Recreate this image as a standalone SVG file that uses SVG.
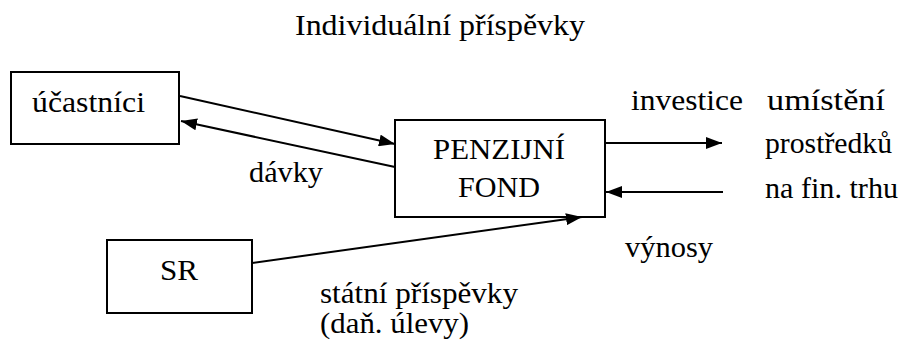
<svg xmlns="http://www.w3.org/2000/svg" width="917" height="345" viewBox="0 0 917 345">
<style>
text{font-family:'Liberation Serif','Times New Roman','DejaVu Serif',serif;font-size:30px;fill:#000}
.box{fill:#fff;stroke:#000;stroke-width:2}
.ln{stroke:#000;stroke-width:2;fill:none;marker-end:url(#ah)}
</style>
<defs>
<marker id="ah" markerWidth="16" markerHeight="12" refX="16" refY="6" orient="auto" markerUnits="userSpaceOnUse">
<path d="M0,0 L16,6 L0,12 Z" fill="#000"/>
</marker>
</defs>
<rect width="917" height="345" fill="#fff"/>
<g id="title">
<text x="295" y="35" textLength="290" lengthAdjust="spacingAndGlyphs">Individuální příspěvky</text>
</g>
<g id="ucastnici">
<rect class="box" x="11" y="72" width="168" height="72"/>
<text x="32" y="112" textLength="113" lengthAdjust="spacingAndGlyphs">účastníci</text>
</g>
<g id="fond">
<rect class="box" x="395" y="120" width="210" height="97"/>
<text x="433" y="159" textLength="132" lengthAdjust="spacingAndGlyphs">PENZIJNÍ</text>
<text x="458" y="197" textLength="82" lengthAdjust="spacingAndGlyphs">FOND</text>
</g>
<g id="sr">
<rect class="box" x="107" y="240" width="145" height="73"/>
<text x="160" y="280" textLength="38" lengthAdjust="spacingAndGlyphs">SR</text>
</g>
<g id="connectors">
<line class="ln" x1="180" y1="96" x2="395" y2="144"/>
<line class="ln" x1="395" y1="167" x2="181" y2="121"/>
<line class="ln" x1="605" y1="143" x2="722" y2="143"/>
<line class="ln" x1="723" y1="192" x2="606" y2="192"/>
<line class="ln" x1="252" y1="263" x2="582" y2="217"/>
</g>
<g id="labels">
<text x="249" y="182" textLength="74" lengthAdjust="spacingAndGlyphs">dávky</text>
<text x="631" y="110" textLength="112" lengthAdjust="spacingAndGlyphs">investice</text>
<text x="767" y="110" textLength="118" lengthAdjust="spacingAndGlyphs">umístění</text>
<text x="765" y="153" textLength="127" lengthAdjust="spacingAndGlyphs">prostředků</text>
<text x="765" y="198" textLength="133" lengthAdjust="spacingAndGlyphs">na fin. trhu</text>
<text x="625" y="257" textLength="88" lengthAdjust="spacingAndGlyphs">výnosy</text>
<text x="320" y="303" textLength="198" lengthAdjust="spacingAndGlyphs">státní příspěvky</text>
<text x="320" y="333" textLength="149" lengthAdjust="spacingAndGlyphs">(daň. úlevy)</text>
</g>
</svg>
